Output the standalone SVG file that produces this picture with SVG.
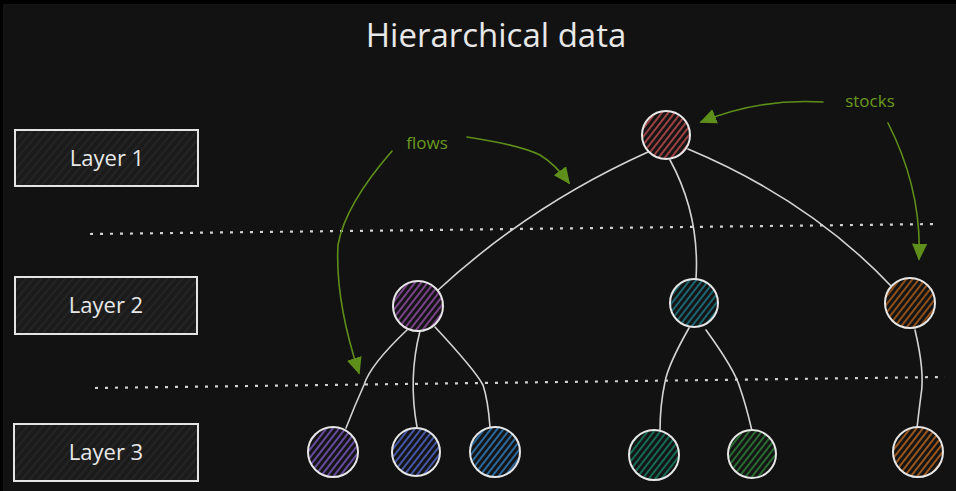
<svg xmlns="http://www.w3.org/2000/svg" width="956" height="491" viewBox="0 0 956 491">
<defs>
<style>
.txt{font-family:"Open Sans","Liberation Sans",sans-serif;fill:#e8e8e8}
.lbl{font-family:"Open Sans","Liberation Sans",sans-serif;fill:#6a9a1f;font-size:17px}
.box{stroke:#e4e4e4;stroke-width:2;fill:url(#hbox)}
.node{stroke:#e6e6e6;stroke-width:2}
.edge{fill:none;stroke:#d4d4d4;stroke-width:1.6;stroke-linecap:round}
.dots{stroke:#d0d0d0;stroke-width:2.2;stroke-dasharray:3 7;fill:none}
.arr{fill:none;stroke:#5e8f1a;stroke-width:1.6;stroke-linecap:round}
</style>
<marker id="ah" viewBox="0 0 10 10" refX="9" refY="5" markerWidth="17" markerHeight="17" markerUnits="userSpaceOnUse" orient="auto"><path d="M0,0.5 L10,5 L0,9.5 Z" fill="#5e8f1a"/></marker>
<pattern id="hbox" width="6" height="6" patternUnits="userSpaceOnUse" patternTransform="rotate(40)"><rect width="6" height="6" fill="#1b1b1b"/><line x1="1" y1="0" x2="1" y2="6" stroke="#2a2a2a" stroke-width="1.2"/></pattern>
<pattern id="hred" width="5" height="5" patternUnits="userSpaceOnUse" patternTransform="rotate(38)"><rect width="5" height="5" fill="#141414"/><line x1="1" y1="0" x2="1" y2="5" stroke="#b5494b" stroke-width="1.7"/></pattern>
<pattern id="hpur" width="5" height="5" patternUnits="userSpaceOnUse" patternTransform="rotate(38)"><rect width="5" height="5" fill="#141414"/><line x1="1" y1="0" x2="1" y2="5" stroke="#8b4a9c" stroke-width="1.7"/></pattern>
<pattern id="htea" width="5" height="5" patternUnits="userSpaceOnUse" patternTransform="rotate(38)"><rect width="5" height="5" fill="#141414"/><line x1="1" y1="0" x2="1" y2="5" stroke="#1b7380" stroke-width="1.7"/></pattern>
<pattern id="hora" width="5" height="5" patternUnits="userSpaceOnUse" patternTransform="rotate(38)"><rect width="5" height="5" fill="#141414"/><line x1="1" y1="0" x2="1" y2="5" stroke="#a3581a" stroke-width="1.7"/></pattern>
<pattern id="hvio" width="5" height="5" patternUnits="userSpaceOnUse" patternTransform="rotate(38)"><rect width="5" height="5" fill="#141414"/><line x1="1" y1="0" x2="1" y2="5" stroke="#7454b8" stroke-width="1.7"/></pattern>
<pattern id="hind" width="5" height="5" patternUnits="userSpaceOnUse" patternTransform="rotate(38)"><rect width="5" height="5" fill="#141414"/><line x1="1" y1="0" x2="1" y2="5" stroke="#4e62c0" stroke-width="1.7"/></pattern>
<pattern id="hblu" width="5" height="5" patternUnits="userSpaceOnUse" patternTransform="rotate(38)"><rect width="5" height="5" fill="#141414"/><line x1="1" y1="0" x2="1" y2="5" stroke="#2e78b8" stroke-width="1.7"/></pattern>
<pattern id="htgr" width="5" height="5" patternUnits="userSpaceOnUse" patternTransform="rotate(38)"><rect width="5" height="5" fill="#141414"/><line x1="1" y1="0" x2="1" y2="5" stroke="#137a5e" stroke-width="1.7"/></pattern>
<pattern id="hgrn" width="5" height="5" patternUnits="userSpaceOnUse" patternTransform="rotate(38)"><rect width="5" height="5" fill="#141414"/><line x1="1" y1="0" x2="1" y2="5" stroke="#2b7a36" stroke-width="1.7"/></pattern>
<pattern id="hor2" width="5" height="5" patternUnits="userSpaceOnUse" patternTransform="rotate(38)"><rect width="5" height="5" fill="#141414"/><line x1="1" y1="0" x2="1" y2="5" stroke="#b0601c" stroke-width="1.7"/></pattern>
</defs>
<rect width="956" height="491" fill="#000"/>
<rect x="3" y="4" width="953" height="487" fill="#121212"/>

<text class="txt" x="496" y="47" font-size="33" text-anchor="middle">Hierarchical data</text>

<g id="layer1"><rect class="box" x="15" y="130" width="183" height="56"/><text class="txt" x="107" y="166" font-size="22" text-anchor="middle">Layer 1</text></g>
<g id="layer2"><rect class="box" x="15" y="277" width="182" height="57"/><text class="txt" x="106" y="313" font-size="22" text-anchor="middle">Layer 2</text></g>
<g id="layer3"><rect class="box" x="14" y="424" width="184" height="57"/><text class="txt" x="106" y="460" font-size="22" text-anchor="middle">Layer 3</text></g>

<g id="separators">
<path class="dots" d="M90,234 L940,224"/>
<path class="dots" d="M95,388 L945,377"/>
</g>

<g id="connectors">
<path class="edge" d="M648,152 Q530,205 437,291"/>
<path class="edge" d="M670,160 Q700,215 696,279"/>
<path class="edge" d="M688,149 Q810,200 892,287"/>
<path class="edge" d="M407,330 Q370,365 364,385 Q355,405 346,428"/>
<path class="edge" d="M420,331 Q408,378 417,427"/>
<path class="edge" d="M435,327 Q475,370 483,385 Q488,400 490,427"/>
<path class="edge" d="M689,328 Q668,365 665,382 Q660,405 660,431"/>
<path class="edge" d="M706,330 Q735,370 740,388 Q746,405 752,431"/>
<path class="edge" d="M915,330 Q925,372 921,395 Q919,410 917,428"/>
</g>

<g id="annotations">
<path class="arr" d="M467,137 Q520,145 540,155 Q555,164 569,183" marker-end="url(#ah)"/>
<path class="arr" d="M392,151 Q345,205 338,245 Q335,300 359,373" marker-end="url(#ah)"/>
<path class="arr" d="M823,102 Q760,98 701,122" marker-end="url(#ah)"/>
<path class="arr" d="M888,123 Q922,190 919,259" marker-end="url(#ah)"/>
<text class="lbl" x="427" y="149" text-anchor="middle">flows</text>
<text class="lbl" x="870" y="107" text-anchor="middle">stocks</text>
</g>

<g id="root"><circle class="node" cx="666" cy="135" r="24" fill="url(#hred)"/></g>
<g id="n-purple"><circle class="node" cx="418" cy="306" r="25" fill="url(#hpur)"/></g>
<g id="n-teal"><circle class="node" cx="694" cy="303" r="24" fill="url(#htea)"/></g>
<g id="n-orange"><circle class="node" cx="910" cy="303" r="25" fill="url(#hora)"/></g>
<g id="l-violet"><circle class="node" cx="333" cy="452" r="25" fill="url(#hvio)"/></g>
<g id="l-indigo"><circle class="node" cx="416" cy="452" r="24" fill="url(#hind)"/></g>
<g id="l-blue"><circle class="node" cx="495" cy="452" r="25" fill="url(#hblu)"/></g>
<g id="l-tealgreen"><circle class="node" cx="654" cy="455" r="25" fill="url(#htgr)"/></g>
<g id="l-green"><circle class="node" cx="752" cy="454" r="24" fill="url(#hgrn)"/></g>
<g id="l-orange"><circle class="node" cx="918" cy="452" r="25" fill="url(#hor2)"/></g>
</svg>
